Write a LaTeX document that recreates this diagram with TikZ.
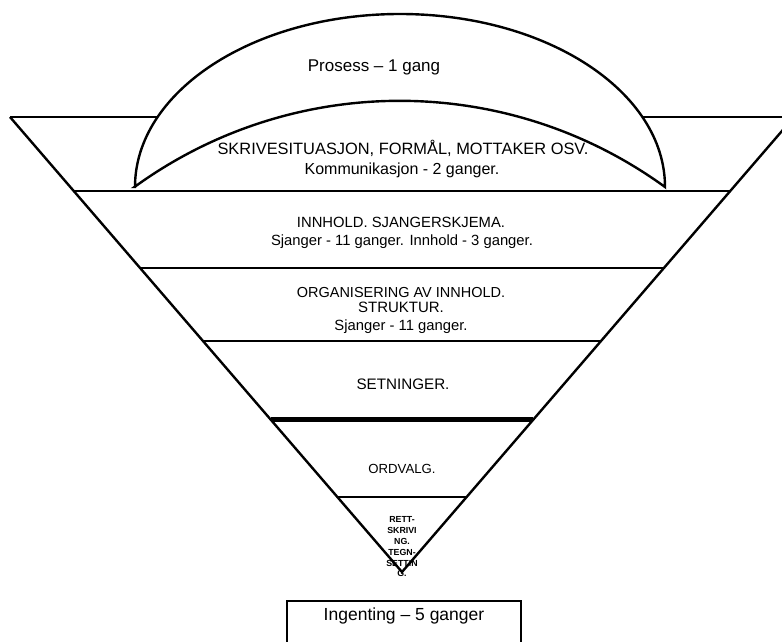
\documentclass[tikz,border=0pt]{standalone}
\usepackage{fontspec}
\setmainfont{Liberation Sans}
\begin{document}
\begin{tikzpicture}[x=1pt,y=-1pt,
  edge/.style={line width=2.4pt,line join=miter},
  band/.style={line width=2.4pt},
  thin/.style={line width=1.5pt},
  label/.style={inner sep=0pt,anchor=center,align=center,text=black},
  fs/.style={font=\fontsize{#1}{#1}\selectfont}]
\useasboundingbox (0,0) rectangle (782,642);
\clip (0,0) rectangle (782,642);
% funnel outline
\coordinate (tl) at (10,117);
\coordinate (tr) at (794,117);
\coordinate (apex) at (402,572);
\draw[edge] (tl) -- (apex) -- (tr);
\draw[thin] (tl) -- (tr);
% band dividers
\draw[band] (74,191) -- (730,191);
\draw[band] (140,268) -- (664,268);
\draw[band] (203,341) -- (601,341);
\draw[line width=5pt] (271,419) -- (533,419);
\draw[band] (337,497) -- (467,497);
% dome over the top band
\fill[white] (135,187) arc[start angle=180,end angle=0,x radius=265pt,y radius=173pt] -- cycle;
\draw[line width=2.4pt,line join=miter] (135,187)
  arc[start angle=180,end angle=0,x radius=265pt,y radius=173pt]
  arc[start angle=54,end angle=126,radius=451.3pt] -- cycle;
\draw[line width=1.8pt] (388,13.5) -- (407,13.5);
% labels
\node[label,fs=17] (prosess) at (374,67) {Prosess – 1 gang};
\node[label,fs=16.4] (skrive) at (403,148) {SKRIVESITUASJON, FORMÅL, MOTTAKER OSV.};
\node[label,fs=16] (komm) at (402,170) {Kommunikasjon - 2 ganger.};
\node[label,fs=14.8] (innhold) at (401,222) {INNHOLD. SJANGERSKJEMA.};
\node[label,fs=14.8] (sjanger1) at (402,242) {Sjanger - 11 ganger. Innhold - 3 ganger.};
\node[label,fs=14.5] (org) at (401,293) {ORGANISERING AV INNHOLD.};
\node[label,fs=15] (struktur) at (401,307) {STRUKTUR.};
\node[label,fs=14.8] (sjanger2) at (401,327) {Sjanger - 11 ganger.};
\node[label,fs=15.2] (setn) at (403,384) {SETNINGER.};
\node[label,fs=13.2] (ordvalg) at (402,469) {ORDVALG.};
\node[label,font=\bfseries\fontsize{8.8}{10.8}\selectfont] (rett) at (402,547)
  {RETT-\\SKRIVI\\NG.\\TEGN-\\SETTIN\\G.};
% box below the funnel
\draw[line width=2.6pt] (287,650) -- (287,601) -- (521,601) -- (521,650);
\node[label,fs=17.5] (ingen) at (404,616) {Ingenting – 5 ganger};
\end{tikzpicture}
\end{document}
